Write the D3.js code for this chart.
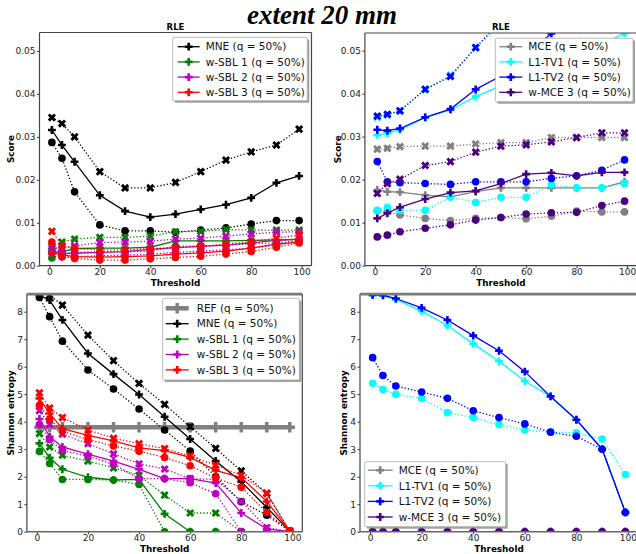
<!DOCTYPE html>
<html><head><meta charset="utf-8">
<script src="https://cdn.jsdelivr.net/npm/d3@7"></script>
<style>
html,body{margin:0;padding:0;background:#fff;}
text{font-family:"DejaVu Sans",sans-serif;}
</style></head>
<body><svg id="c" width="636" height="554"></svg>
<script>
// ---------------- DATA ----------------
const thresholds = [1,5,10,20,30,40,50,60,70,80,90,99];
const xTicks = [0,20,40,60,80,100];
const scoreTicks = [0,0.01,0.02,0.03,0.04,0.05];
const entropyTicks = [0,1,2,3,4,5,6,7,8];

// RLE, left panel
const mneRleMed  = [0.0316,0.0281,0.0242,0.0164,0.0127,0.0113,0.0120,0.0131,0.0142,0.0158,0.0193,0.0209];
const mneRleHi   = [0.0345,0.0331,0.0300,0.0219,0.0181,0.0181,0.0194,0.0219,0.0246,0.0265,0.0281,0.0318];
const mneRleLo   = [0.0287,0.0250,0.0172,0.0095,0.0081,0.0081,0.0078,0.0083,0.0088,0.0097,0.0105,0.0105];
const sbl1RleMed = [0.0028,0.0032,0.0040,0.0041,0.0041,0.0043,0.0058,0.0058,0.0058,0.0059,0.0060,0.0061];
const sbl1RleHi  = [0.0045,0.0055,0.0062,0.0066,0.0066,0.0069,0.0079,0.0080,0.0084,0.0083,0.0083,0.0083];
const sbl1RleLo  = [0.0018,0.0027,0.0031,0.0032,0.0032,0.0034,0.0045,0.0046,0.0048,0.0051,0.0053,0.0058];
const sbl2RleMed = [0.0035,0.0028,0.0029,0.0031,0.0033,0.0038,0.0042,0.0045,0.0048,0.0053,0.0059,0.0062];
const sbl2RleHi  = [0.0040,0.0041,0.0046,0.0054,0.0055,0.0057,0.0062,0.0064,0.0069,0.0074,0.0078,0.0079];
const sbl2RleLo  = [0.0030,0.0020,0.0021,0.0023,0.0025,0.0027,0.0031,0.0034,0.0037,0.0041,0.0048,0.0057];
const sbl3RleMed = [0.0030,0.0025,0.0021,0.0020,0.0021,0.0023,0.0027,0.0030,0.0034,0.0041,0.0050,0.0055];
const sbl3RleHi  = [0.0080,0.0047,0.0040,0.0037,0.0037,0.0040,0.0042,0.0045,0.0050,0.0056,0.0064,0.0072];
const sbl3RleLo  = [0.0055,0.0022,0.0017,0.0013,0.0013,0.0016,0.0019,0.0022,0.0027,0.0033,0.0043,0.0053];

// RLE, right panel
const mceRleMed  = [0.0176,0.0172,0.0171,0.0164,0.0160,0.0172,0.0181,0.0181,0.0181,0.0181,0.0181,0.0195];
const mceRleHi   = [0.0271,0.0273,0.0277,0.0278,0.0278,0.0283,0.0286,0.0286,0.0298,0.0298,0.0298,0.0298];
const mceRleLo   = [0.0128,0.0126,0.0118,0.0110,0.0105,0.0110,0.0112,0.0109,0.0115,0.0127,0.0125,0.0125];
const tv1RleMed  = [0.0304,0.0308,0.0316,0.0345,0.0362,0.0393,0.0418,0.0445,0.0470,0.0495,0.0515,0.0540];
const tv1RleHi   = [0.0345,0.0350,0.0360,0.0410,0.0443,0.0507,0.0560,0.0590,0.0620,0.0640,0.0660,0.0680];
const tv1RleLo   = [0.0129,0.0136,0.0129,0.0129,0.0160,0.0147,0.0159,0.0159,0.0188,0.0181,0.0181,0.0191];
const tv2RleMed  = [0.0316,0.0314,0.0319,0.0345,0.0364,0.0410,0.0441,0.0490,0.0540,0.0580,0.0610,0.0640];
const tv2RleHi   = [0.0348,0.0352,0.0360,0.0410,0.0440,0.0507,0.0570,0.0620,0.0660,0.0690,0.0720,0.0750];
const tv2RleLo   = [0.0242,0.0195,0.0193,0.0191,0.0189,0.0195,0.0195,0.0195,0.0203,0.0209,0.0222,0.0246];
const wmceRleMed = [0.0110,0.0122,0.0136,0.0155,0.0170,0.0174,0.0191,0.0213,0.0216,0.0209,0.0217,0.0217];
const wmceRleHi  = [0.0168,0.0191,0.0201,0.0233,0.0242,0.0264,0.0278,0.0281,0.0288,0.0298,0.0309,0.0309];
const wmceRleLo  = [0.0067,0.0071,0.0079,0.0087,0.0095,0.0106,0.0112,0.0120,0.0123,0.0124,0.0140,0.0150];

// Shannon entropy, left panel
const refEnt     = [3.8,3.8,3.8,3.8,3.8,3.8,3.8,3.8,3.8,3.8,3.8,3.8];
const mneEntMed  = [8.60,8.42,7.70,6.48,5.73,4.99,4.18,3.37,2.57,1.82,0.88,0.02];
const mneEntHi   = [8.75,8.60,8.24,7.15,6.22,5.39,4.63,3.82,3.03,2.21,1.39,0.02];
const mneEntLo   = [8.52,7.82,6.93,5.88,5.19,4.46,3.70,2.93,2.00,1.09,0.60,0.02];
const sbl1EntMed = [3.21,2.69,2.27,1.98,1.88,1.90,0.65,0.00,0.00,0.00,0.00,0.00];
const sbl1EntHi  = [3.57,3.08,2.78,2.57,2.32,2.05,1.33,0.68,0.68,0.00,0.00,0.00];
const sbl1EntLo  = [2.92,2.48,1.90,1.90,1.88,1.72,0.00,0.00,0.00,0.00,0.00,0.00];
const sbl2EntMed = [4.10,3.45,3.08,2.82,2.57,2.27,1.93,1.93,1.77,0.68,0.10,0.00];
const sbl2EntHi  = [4.40,3.90,3.55,3.20,2.83,2.47,2.28,1.93,1.90,1.10,0.15,0.00];
const sbl2EntLo  = [3.90,3.35,2.95,2.75,2.45,1.93,1.93,1.78,1.38,0.00,0.00,0.00];
const sbl3EntMed = [4.85,4.30,3.75,3.50,3.30,3.05,2.95,2.70,2.23,1.97,1.10,0.02];
const sbl3EntHi  = [5.05,4.50,4.15,3.70,3.40,3.20,3.02,2.75,2.42,2.05,1.40,0.02];
const sbl3EntLo  = [4.60,4.10,3.65,3.35,3.12,2.93,2.70,2.40,1.95,1.62,0.70,0.02];

// Shannon entropy, right panel
const mceEntMed  = [0,0,0,0,0,0,0,0,0,0,0,0];
const mceEntLo   = [0,0,0,0,0,0,0,0,0,0,0,0];
const tv1EntMed  = [8.60,8.58,8.45,8.02,7.50,6.83,6.20,5.48,4.92,4.07,3.00,0.70];
const tv1EntLo   = [5.40,5.17,5.00,4.85,4.33,4.15,3.90,3.70,3.62,3.60,3.37,2.08];
const tv2EntMed  = [8.61,8.60,8.48,8.14,7.70,7.13,6.58,5.82,4.92,4.07,3.00,0.70];
const tv2EntLo   = [6.33,5.68,5.30,5.08,4.85,4.40,4.15,3.92,3.62,3.47,3.00,0.70];
const wmceEntMed = [0,0,0,0,0,0,0,0,0,0,0,0];
const wmceEntLo  = [0,0,0,0,0,0,0,0,0,0,0,0];

const leftRleNames  = ["MNE (q = 50%)","w-SBL 1 (q = 50%)","w-SBL 2 (q = 50%)","w-SBL 3 (q = 50%)"];
const rightNames    = ["MCE (q = 50%)","L1-TV1 (q = 50%)","L1-TV2 (q = 50%)","w-MCE 3 (q = 50%)"];
const leftEntNames  = ["REF (q = 50%)","MNE (q = 50%)","w-SBL 1 (q = 50%)","w-SBL 2 (q = 50%)","w-SBL 3 (q = 50%)"];

// ---------------- STYLE ----------------
const C = {mne:"#000000", sbl1:"#008000", sbl2:"#bf00bf", sbl3:"#ff0000",
           mce:"#808080", tv1:"#00ffff", tv2:"#0000ff", wmce:"#4b0082", ref:"#808080"};

const svg = d3.select("#c");
svg.append("text").attr("x",322).attr("y",24).attr("text-anchor","middle")
  .style("font-family","'Liberation Serif','DejaVu Serif',serif").style("font-size","27px")
  .style("font-weight","bold").style("font-style","italic").text("extent 20 mm");

function markerPath(kind, s){
  if(kind==="o") return d3.symbol().type(d3.symbolCircle).size(s*1.35)();
  if(kind==="X") return d3.symbol().type(d3.symbolCross).size(s*1.25)();
  return d3.symbol().type(d3.symbolCross).size(s)();
}

let clipId = 0;
function panel(p){
  const x = d3.scaleLinear().domain([-3.9,103.9]).range([p.left,p.right]);
  const y = d3.scaleLinear().domain(p.ydom).range([p.bottom,p.top]);
  const id = "clip"+(clipId++);
  svg.append("clipPath").attr("id",id).append("rect")
    .attr("x",p.left).attr("y",p.top).attr("width",p.right-p.left).attr("height",p.bottom-p.top);
  const g = svg.append("g").attr("clip-path","url(#"+id+")");
  const line = d3.line().x((d,i)=>x(thresholds[i])).y(d=>y(d));
  p.series.forEach(s=>{
    const lw = s.lw || 1.3;
    g.append("path").attr("d",line(s.values)).attr("fill","none")
      .attr("stroke",s.color).attr("stroke-width",lw)
      .attr("stroke-dasharray", s.kind==="P" ? null : "1.3,2");
    const ms = s.ms || 34;
    g.selectAll(null).data(s.values).enter().append("path")
      .attr("d",markerPath(s.kind,ms))
      .attr("transform",(d,i)=>`translate(${x(thresholds[i])},${y(d)})${s.kind==="X"?" rotate(45)":""}`)
      .attr("fill",s.color);
  });
  // axes
  const ax = svg.append("g").attr("transform",`translate(0,${p.bottom})`)
    .call(d3.axisBottom(x).tickValues(xTicks).tickSize(2.5).tickPadding(0.8));
  const ay = svg.append("g").attr("transform",`translate(${p.left},0)`)
    .call(d3.axisLeft(y).tickValues(p.yticks).tickFormat(p.yfmt).tickSize(2.5).tickPadding(1.5));
  [ax,ay].forEach(a=>{
    a.select(".domain").remove();
    a.selectAll("text").style("font-size","9px").style("font-family","'DejaVu Sans',sans-serif").attr("fill","#222");
    a.selectAll("line").attr("stroke","#333");
  });
  // spines
  const sp = svg.append("g").attr("fill","none");
  sp.append("line").attr("x1",p.left).attr("x2",p.left).attr("y1",p.top).attr("y2",p.bottom).attr("stroke","#444").attr("stroke-width",1.2);
  sp.append("line").attr("x1",p.right).attr("x2",p.right).attr("y1",p.top).attr("y2",p.bottom).attr("stroke","#444").attr("stroke-width",1.2);
  sp.append("line").attr("x1",p.left).attr("x2",p.right).attr("y1",p.bottom).attr("y2",p.bottom).attr("stroke",p.botSpine||"#444").attr("stroke-width",p.botW||1.2);
  sp.append("line").attr("x1",p.left).attr("x2",p.right).attr("y1",p.top).attr("y2",p.top).attr("stroke",p.topSpine||"#444").attr("stroke-width",p.topW||1.2);
  if(p.title) svg.append("text").attr("x",(p.left+p.right)/2).attr("y",p.top-3).attr("text-anchor","middle")
      .style("font-size","8.5px").style("font-weight","bold").text(p.title);
  svg.append("text").attr("x",(p.left+p.right)/2).attr("y",p.bottom+20).attr("text-anchor","middle")
      .style("font-size","8.8px").style("font-weight","bold").text("Threshold");
  svg.append("text").attr("transform",`translate(${p.ylabX},${(p.top+p.bottom)/2}) rotate(-90)`).attr("text-anchor","middle")
      .style("font-size","8.8px").style("font-weight","bold").text(p.ylabel);
  // legend
  const L = p.legend;
  const lg = svg.append("g");
  lg.append("rect").attr("x",L.x+2).attr("y",L.y+2).attr("width",L.w).attr("height",L.h).attr("fill","#777").attr("opacity",0.7).attr("rx",1.5);
  lg.append("rect").attr("x",L.x).attr("y",L.y).attr("width",L.w).attr("height",L.h).attr("fill","#fff").attr("stroke","#aaa").attr("stroke-width",0.8).attr("rx",1.5);
  L.items.forEach((it,i)=>{
    const yy = L.y + L.first + i*L.step;
    lg.append("line").attr("x1",L.x+L.lx0).attr("x2",L.x+L.lx1).attr("y1",yy).attr("y2",yy)
      .attr("stroke",it.color).attr("stroke-width",it.lw||1.3);
    lg.append("path").attr("d",markerPath("P",it.ms||34)).attr("transform",`translate(${L.x+(L.lx0+L.lx1)/2},${yy})`).attr("fill",it.color);
    lg.append("text").attr("x",L.x+L.tx).attr("y",yy).attr("dy","0.36em").style("font-size","10.5px").attr("fill","#111").text(it.name);
  });
}

function trio(color, med, hi, lo){
  const arr = [{values:med,color,kind:"P"}];
  if(hi) arr.push({values:hi,color,kind:"X"});
  if(lo) arr.push({values:lo,color,kind:"o"});
  return arr;
}
const fmtScore = d3.format(".2f");
const fmtEnt = d3.format("d");

// Top-left
panel({left:39.5,right:311.5,top:32.5,bottom:265.7,ydom:[0,0.0543],yticks:scoreTicks,yfmt:fmtScore,
  title:"RLE",ylabel:"Score",ylabX:14,
  series:[...trio(C.mne,mneRleMed,mneRleHi,mneRleLo),...trio(C.sbl1,sbl1RleMed,sbl1RleHi,sbl1RleLo),
          ...trio(C.sbl2,sbl2RleMed,sbl2RleHi,sbl2RleLo),...trio(C.sbl3,sbl3RleMed,sbl3RleHi,sbl3RleLo)],
  legend:{x:172.7,y:37.3,w:134.6,h:63.4,first:9.4,step:15.2,lx0:5,lx1:27,tx:33,
    items:leftRleNames.map((n,i)=>({name:n,color:[C.mne,C.sbl1,C.sbl2,C.sbl3][i]}))}
});
// Top-right
panel({left:364.9,right:636.9,top:33,bottom:265.7,ydom:[0,0.0541],yticks:scoreTicks,yfmt:fmtScore,
  title:"RLE",ylabel:"Score",ylabX:341,
  series:[...trio(C.mce,mceRleMed,mceRleHi,mceRleLo),...trio(C.tv1,tv1RleMed,tv1RleHi,tv1RleLo),
          ...trio(C.tv2,tv2RleMed,tv2RleHi,tv2RleLo),...trio(C.wmce,wmceRleMed,wmceRleHi,wmceRleLo)],
  legend:{x:495.3,y:38.3,w:137.7,h:63.4,first:8.4,step:15.2,lx0:4,lx1:27,tx:33,
    items:rightNames.map((n,i)=>({name:n,color:[C.mce,C.tv1,C.tv2,C.wmce][i]}))}
});
// Bottom-left
panel({left:26.9,right:302.3,top:294.1,bottom:531.7,ydom:[0,8.64],yticks:entropyTicks,yfmt:fmtEnt,
  ylabel:"Shannon entropy",ylabX:14,topSpine:"#7a7a7a",topW:2.6,botSpine:"#666",botW:1.6,
  series:[{values:refEnt,color:C.ref,kind:"P",lw:4.5,ms:60},
          ...trio(C.mne,mneEntMed,mneEntHi,mneEntLo),...trio(C.sbl1,sbl1EntMed,sbl1EntHi,sbl1EntLo),
          ...trio(C.sbl2,sbl2EntMed,sbl2EntHi,sbl2EntLo),...trio(C.sbl3,sbl3EntMed,sbl3EntHi,sbl3EntLo)],
  legend:{x:162.7,y:298.3,w:136.6,h:81.7,first:10,step:15.4,lx0:3,lx1:26,tx:34,
    items:leftEntNames.map((n,i)=>({name:n,color:[C.ref,C.mne,C.sbl1,C.sbl2,C.sbl3][i],lw:i===0?4.5:1.3,ms:i===0?60:34}))}
});
// Bottom-right
panel({left:360,right:638,top:294.1,bottom:531.7,ydom:[0,8.64],yticks:entropyTicks,yfmt:fmtEnt,
  ylabel:"Shannon entropy",ylabX:347,topSpine:"#7a7a7a",topW:2.6,botSpine:"#666",botW:1.6,
  series:[...trio(C.mce,mceEntMed,null,mceEntLo),...trio(C.tv1,tv1EntMed,null,tv1EntLo),
          ...trio(C.tv2,tv2EntMed,null,tv2EntLo),...trio(C.wmce,wmceEntMed,null,wmceEntLo)],
  legend:{x:364.7,y:461.7,w:141,h:65,first:8.5,step:15.6,lx0:3,lx1:28,tx:34,
    items:rightNames.map((n,i)=>({name:n,color:[C.mce,C.tv1,C.tv2,C.wmce][i]}))}
});
</script></body></html>
